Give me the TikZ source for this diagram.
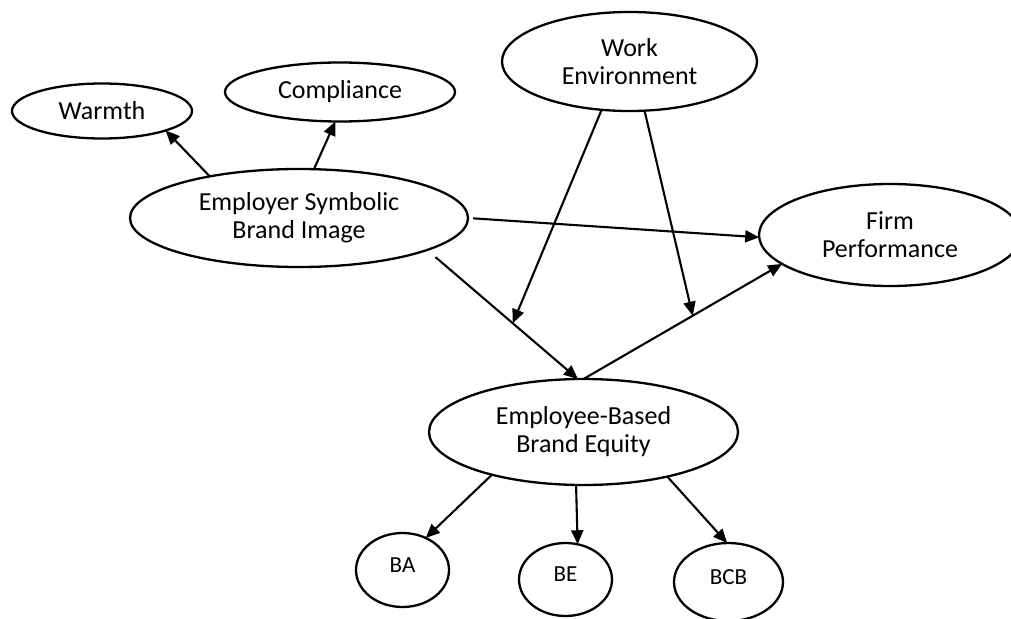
\documentclass[tikz,border=0pt]{standalone}
\usepackage{fontspec}
\setmainfont{Carlito}
\usetikzlibrary{arrows.meta,shapes.geometric}
\begin{document}
\begin{tikzpicture}[x=1pt,y=-1pt,
  construct/.style={draw, ellipse, line width=2.3pt, inner sep=0pt, outer sep=0pt,
    align=center, font=\fontsize{26}{28}\selectfont},
  indicator/.style={construct, font=\fontsize{23}{26}\selectfont},
  link/.style={line width=2.1pt, -{Triangle[length=14pt,width=12pt]}}]
\useasboundingbox (0,0) rectangle (1011,618);
\clip (0,0) rectangle (1011,618);

% constructs
\node[construct, minimum width=180pt, minimum height=55pt] (warmth) at (102,111) {\raisebox{-3pt}{Warmth}};
\node[construct, minimum width=230pt, minimum height=59pt] (compliance) at (340,92) {\raisebox{-4pt}{Compliance}};
\node[construct, minimum width=338pt, minimum height=98pt] (esbi) at (299,218) {Employer Symbolic\\Brand Image};
\node[construct, minimum width=255pt, minimum height=99pt] (work) at (629.5,61.5) {Work\\Environment};
\node[construct, minimum width=262pt, minimum height=102pt] (firm) at (890,235) {Firm\\Performance};
\node[construct, minimum width=309pt, minimum height=106pt] (ebbe) at (583.5,432) {Employee-Based\\Brand Equity};

% dimensions of brand equity
\node[indicator, minimum width=93pt, minimum height=74pt] (ba) at (402.5,570) {\raisebox{10pt}{BA}};
\node[indicator, minimum width=93pt, minimum height=73pt] (be) at (565.5,579.5) {\raisebox{10pt}{BE}};
\node[indicator, minimum width=109pt, minimum height=78pt] (bcb) at (728.5,582) {\raisebox{10pt}{BCB}};

% paths between constructs
\draw[link] (esbi.155.4) -- (warmth.-17.6);
\draw[link] (esbi.73.3) -- (compliance.-99.5);
\draw[link, shorten <=5pt] (esbi.east) -- (firm.181.9);
\draw[link, shorten <=11pt] (esbi.-14.5) -- (ebbe.96.9) coordinate[pos=0.568] (mleft);
\draw[link] (ebbe.90.5) -- (firm.195.9) coordinate[pos=0.55] (mright);

% moderating effects of the work environment
\draw[link] (work.-120.2) -- (mleft);
\draw[link] (work.-73.6) -- (mright);

% brand equity to its dimensions
\draw[link] (ebbe.-155) -- (ba.54);
\draw[link] (ebbe.-98.6) -- (be.71.6);
\draw[link] (ebbe.-28.7) -- (bcb.92.2);
\end{tikzpicture}
\end{document}
